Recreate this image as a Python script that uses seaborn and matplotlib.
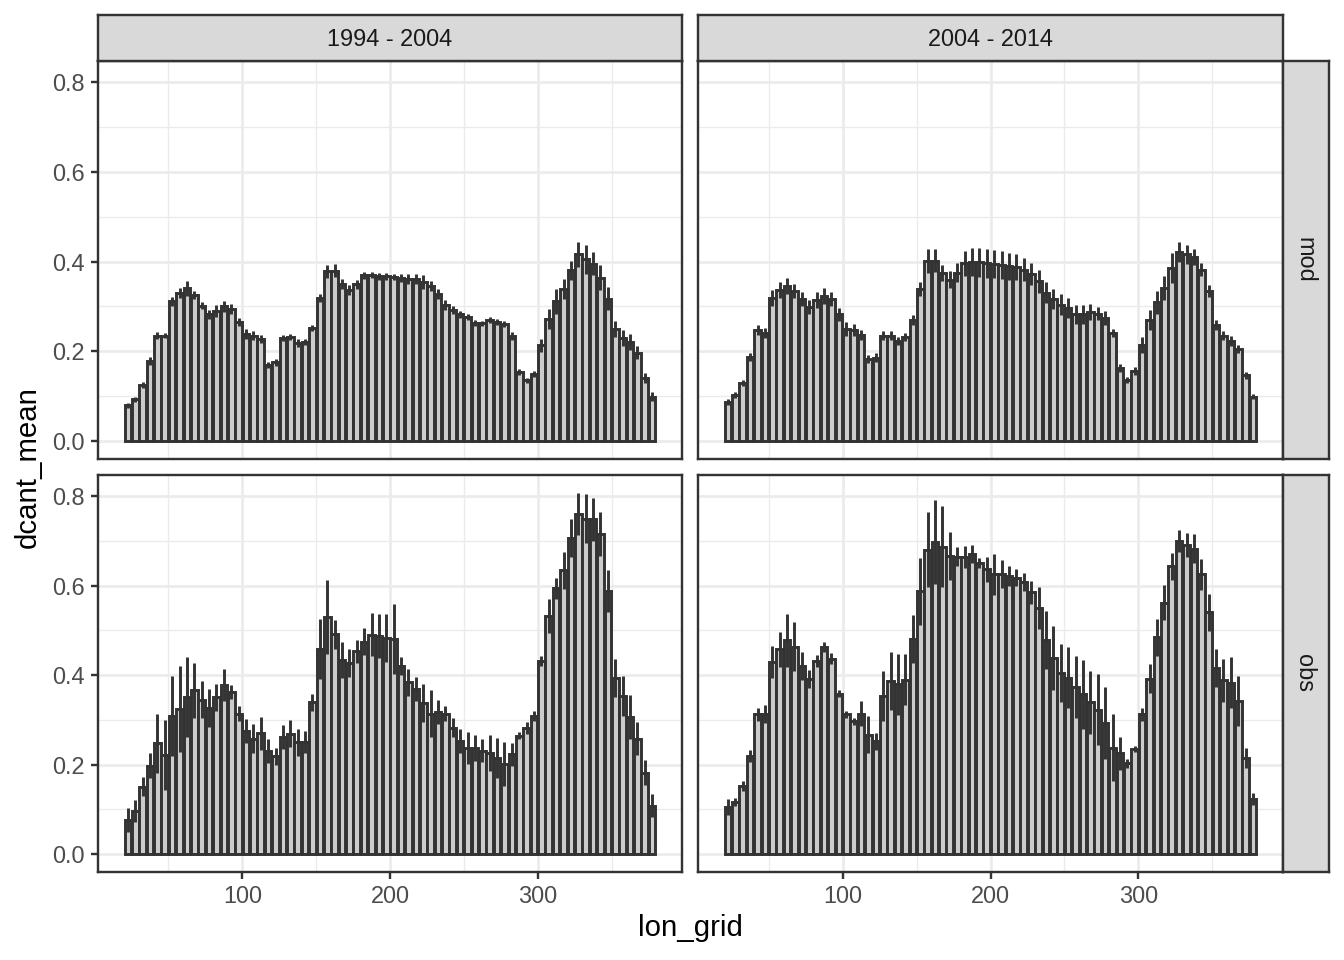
import matplotlib
matplotlib.use("agg")
import matplotlib.pyplot as plt
import numpy as np
import pandas as pd
import seaborn as sns

# longitude grid (bar centres, 5 degree bins)
lon_grid = np.arange(22.5, 380, 5)

periods = ['1994 - 2004', '2004 - 2014']
data_sources = ['mod', 'obs']

mod_1994_mean = [0.079, 0.093, 0.124, 0.179, 0.235, 0.235, 0.311, 0.330, 0.340, 0.325, 0.302, 0.282,
                 0.290, 0.300, 0.295, 0.265, 0.238, 0.235, 0.227, 0.170, 0.175, 0.229, 0.232, 0.218,
                 0.220, 0.252, 0.319, 0.378, 0.380, 0.350, 0.337, 0.349, 0.369, 0.370, 0.367, 0.367,
                 0.365, 0.363, 0.362, 0.361, 0.354, 0.345, 0.328, 0.304, 0.293, 0.282, 0.276, 0.263,
                 0.262, 0.270, 0.265, 0.261, 0.233, 0.153, 0.135, 0.150, 0.213, 0.272, 0.311, 0.339,
                 0.381, 0.416, 0.405, 0.395, 0.364, 0.317, 0.250, 0.229, 0.220, 0.197, 0.140, 0.099]
mod_1994_sd = [0.006, 0.006, 0.007, 0.009, 0.007, 0.006, 0.009, 0.011, 0.016, 0.009, 0.007, 0.011,
               0.013, 0.013, 0.011, 0.009, 0.011, 0.011, 0.009, 0.007, 0.007, 0.007, 0.007, 0.009,
               0.007, 0.007, 0.009, 0.015, 0.015, 0.011, 0.011, 0.011, 0.007, 0.007, 0.007, 0.007,
               0.007, 0.009, 0.011, 0.011, 0.015, 0.011, 0.011, 0.011, 0.009, 0.007, 0.007, 0.007,
               0.006, 0.006, 0.006, 0.007, 0.009, 0.007, 0.006, 0.007, 0.015, 0.022, 0.028, 0.022,
               0.021, 0.028, 0.033, 0.026, 0.028, 0.026, 0.018, 0.018, 0.018, 0.015, 0.011, 0.011]

mod_2004_mean = [0.087, 0.102, 0.129, 0.187, 0.248, 0.241, 0.319, 0.337, 0.346, 0.335, 0.317, 0.299,
                 0.314, 0.324, 0.317, 0.282, 0.250, 0.248, 0.237, 0.183, 0.186, 0.235, 0.235, 0.222,
                 0.232, 0.269, 0.339, 0.401, 0.402, 0.375, 0.360, 0.375, 0.396, 0.399, 0.398, 0.396,
                 0.394, 0.393, 0.390, 0.388, 0.382, 0.372, 0.356, 0.331, 0.317, 0.304, 0.296, 0.282,
                 0.282, 0.287, 0.284, 0.274, 0.241, 0.162, 0.136, 0.155, 0.213, 0.269, 0.309, 0.341,
                 0.386, 0.422, 0.416, 0.410, 0.382, 0.335, 0.258, 0.235, 0.223, 0.205, 0.146, 0.099]
mod_2004_sd = [0.006, 0.006, 0.007, 0.009, 0.011, 0.011, 0.018, 0.018, 0.018, 0.016, 0.015, 0.016,
               0.018, 0.018, 0.015, 0.015, 0.015, 0.013, 0.011, 0.009, 0.009, 0.011, 0.011, 0.009,
               0.009, 0.011, 0.016, 0.026, 0.026, 0.018, 0.018, 0.021, 0.028, 0.031, 0.033, 0.033,
               0.031, 0.031, 0.030, 0.028, 0.026, 0.024, 0.026, 0.024, 0.022, 0.024, 0.022, 0.022,
               0.022, 0.018, 0.015, 0.015, 0.009, 0.009, 0.007, 0.009, 0.018, 0.022, 0.026, 0.026,
               0.033, 0.022, 0.022, 0.018, 0.015, 0.013, 0.011, 0.011, 0.011, 0.009, 0.007, 0.006]

obs_1994_mean = [0.076, 0.096, 0.150, 0.197, 0.248, 0.221, 0.308, 0.325, 0.351, 0.366, 0.345, 0.326,
                 0.350, 0.378, 0.362, 0.314, 0.275, 0.258, 0.270, 0.230, 0.218, 0.262, 0.269, 0.250,
                 0.250, 0.339, 0.458, 0.529, 0.491, 0.433, 0.427, 0.453, 0.475, 0.490, 0.488, 0.483,
                 0.481, 0.421, 0.384, 0.368, 0.338, 0.314, 0.317, 0.314, 0.282, 0.252, 0.237, 0.237,
                 0.231, 0.226, 0.215, 0.201, 0.223, 0.264, 0.282, 0.308, 0.431, 0.532, 0.594, 0.634,
                 0.707, 0.760, 0.750, 0.748, 0.715, 0.587, 0.393, 0.353, 0.306, 0.258, 0.182, 0.108]
obs_1994_sd = [0.026, 0.024, 0.021, 0.028, 0.066, 0.078, 0.090, 0.096, 0.089, 0.061, 0.042, 0.042,
               0.030, 0.036, 0.016, 0.016, 0.026, 0.033, 0.037, 0.026, 0.020, 0.027, 0.030, 0.030,
               0.025, 0.019, 0.067, 0.083, 0.033, 0.040, 0.032, 0.025, 0.030, 0.048, 0.049, 0.053,
               0.078, 0.020, 0.030, 0.027, 0.042, 0.052, 0.027, 0.016, 0.021, 0.027, 0.035, 0.030,
               0.025, 0.040, 0.045, 0.050, 0.026, 0.008, 0.013, 0.011, 0.011, 0.037, 0.024, 0.041,
               0.043, 0.047, 0.054, 0.049, 0.049, 0.047, 0.043, 0.045, 0.050, 0.037, 0.027, 0.026]

obs_2004_mean = [0.104, 0.117, 0.152, 0.219, 0.312, 0.312, 0.429, 0.458, 0.478, 0.463, 0.420, 0.391,
                 0.432, 0.462, 0.437, 0.358, 0.312, 0.297, 0.313, 0.267, 0.252, 0.353, 0.386, 0.379,
                 0.390, 0.481, 0.587, 0.680, 0.698, 0.687, 0.667, 0.665, 0.664, 0.671, 0.650, 0.637,
                 0.625, 0.626, 0.622, 0.618, 0.609, 0.585, 0.550, 0.478, 0.438, 0.405, 0.394, 0.373,
                 0.357, 0.339, 0.323, 0.293, 0.238, 0.225, 0.203, 0.235, 0.312, 0.392, 0.484, 0.562,
                 0.643, 0.700, 0.691, 0.683, 0.625, 0.540, 0.416, 0.388, 0.383, 0.343, 0.215, 0.123]
obs_2004_sd = [0.018, 0.009, 0.011, 0.013, 0.015, 0.020, 0.035, 0.039, 0.059, 0.055, 0.032, 0.021,
               0.013, 0.011, 0.013, 0.008, 0.008, 0.008, 0.028, 0.042, 0.019, 0.056, 0.065, 0.069,
               0.058, 0.054, 0.074, 0.084, 0.094, 0.091, 0.054, 0.022, 0.024, 0.020, 0.011, 0.028,
               0.045, 0.031, 0.022, 0.019, 0.020, 0.026, 0.047, 0.065, 0.071, 0.065, 0.068, 0.069,
               0.077, 0.070, 0.080, 0.080, 0.074, 0.037, 0.010, 0.006, 0.015, 0.033, 0.041, 0.039,
               0.030, 0.024, 0.027, 0.032, 0.034, 0.042, 0.042, 0.048, 0.057, 0.056, 0.022, 0.013]

panelData = {
    ('mod', '1994 - 2004'): (mod_1994_mean, mod_1994_sd),
    ('mod', '2004 - 2014'): (mod_2004_mean, mod_2004_sd),
    ('obs', '1994 - 2004'): (obs_1994_mean, obs_1994_sd),
    ('obs', '2004 - 2014'): (obs_2004_mean, obs_2004_sd),
}

frames = []
for (src, per), (m, s) in panelData.items():
    frames.append(pd.DataFrame({'lon_grid': lon_grid, 'dcant_mean': m, 'dcant_sd': s,
                                'data_source': src, 'period': per}))
df = pd.concat(frames, ignore_index=True)

plt.rcParams['font.family'] = ['Liberation Sans', 'DejaVu Sans']

darkCol = '#333333'
fillCol = '#CCCCCC'
gridCol = '#EBEBEB'
barLw = 1.1

fig = plt.figure(figsize=(7, 5), dpi=192)
W, H = 1344.0, 960.0

colX = [(98, 682), (698, 1283)]
rowY = [(61, 459), (475, 872)]

# shared scales, ggplot-style 5% expansion
ymax = (df['dcant_mean'] + df['dcant_sd']).max()
ylim = (-0.05 * ymax, ymax * 1.05)
xlo, xhi = lon_grid.min() - 2.25, lon_grid.max() + 2.25
xpad = 0.05 * (xhi - xlo)
xlim = (xlo - xpad, xhi + xpad)

for r, src in enumerate(data_sources):
    for c, per in enumerate(periods):
        x0, x1 = colX[c]
        y0, y1 = rowY[r]
        ax = fig.add_axes([x0 / W, 1 - y1 / H, (x1 - x0) / W, (y1 - y0) / H])
        sub = df[(df['data_source'] == src) & (df['period'] == per)]

        sns.barplot(data=sub, x='lon_grid', y='dcant_mean', native_scale=True, width=0.9,
                    color=fillCol, edgecolor=darkCol, linewidth=barLw, saturation=1,
                    errorbar=None, ax=ax, zorder=2)
        ax.vlines(sub['lon_grid'], sub['dcant_mean'] - sub['dcant_sd'],
                  sub['dcant_mean'] + sub['dcant_sd'], colors=darkCol, linewidth=barLw, zorder=3)

        ax.set_xlim(xlim)
        ax.set_ylim(ylim)
        ax.set_xticks([100, 200, 300])
        ax.set_xticks([50, 150, 250, 350], minor=True)
        ax.set_yticks([0.0, 0.2, 0.4, 0.6, 0.8])
        ax.set_yticks([0.1, 0.3, 0.5, 0.7], minor=True)
        ax.grid(which='major', color=gridCol, linewidth=1.0)
        ax.grid(which='minor', color=gridCol, linewidth=0.5)
        ax.set_axisbelow(True)
        ax.set_xlabel('')
        ax.set_ylabel('')
        for sp in ax.spines.values():
            sp.set_color(darkCol)
            sp.set_linewidth(0.9)
        ax.tick_params(which='minor', length=0)
        ax.tick_params(which='major', length=2.75, width=0.9, color=darkCol,
                       labelsize=8.8, labelcolor='#4D4D4D', pad=2.2)
        if c == 0:
            ax.set_yticklabels(['0.0', '0.2', '0.4', '0.6', '0.8'])
        else:
            ax.tick_params(axis='y', left=False, labelleft=False)
        if r == 1:
            ax.set_xticklabels(['100', '200', '300'])
        else:
            ax.tick_params(axis='x', bottom=False, labelbottom=False)

# strips
for c, per in enumerate(periods):
    x0, x1 = colX[c]
    sax = fig.add_axes([x0 / W, 1 - 61 / H, (x1 - x0) / W, 46 / H])
    sax.set_facecolor('#D9D9D9')
    sax.set_xticks([])
    sax.set_yticks([])
    for sp in sax.spines.values():
        sp.set_color(darkCol)
        sp.set_linewidth(0.9)
    sax.text(0.5, 0.47, per, ha='center', va='center', fontsize=8.8, color='#1A1A1A',
             transform=sax.transAxes)

for r, src in enumerate(data_sources):
    y0, y1 = rowY[r]
    sax = fig.add_axes([1283 / W, 1 - y1 / H, 46 / W, (y1 - y0) / H])
    sax.set_facecolor('#D9D9D9')
    sax.set_xticks([])
    sax.set_yticks([])
    for sp in sax.spines.values():
        sp.set_color(darkCol)
        sp.set_linewidth(0.9)
    sax.text(0.47, 0.5, src, ha='center', va='center', fontsize=8.8, color='#1A1A1A',
             rotation=-90, transform=sax.transAxes)

fig.text(690 / W, 1 - 928 / H, 'lon_grid', ha='center', va='center', fontsize=11)
fig.text(28 / W, 1 - 467 / H, 'dcant_mean', ha='center', va='center', fontsize=11, rotation=90)

fig.savefig('out.png', dpi=192)
plt.close('all')
